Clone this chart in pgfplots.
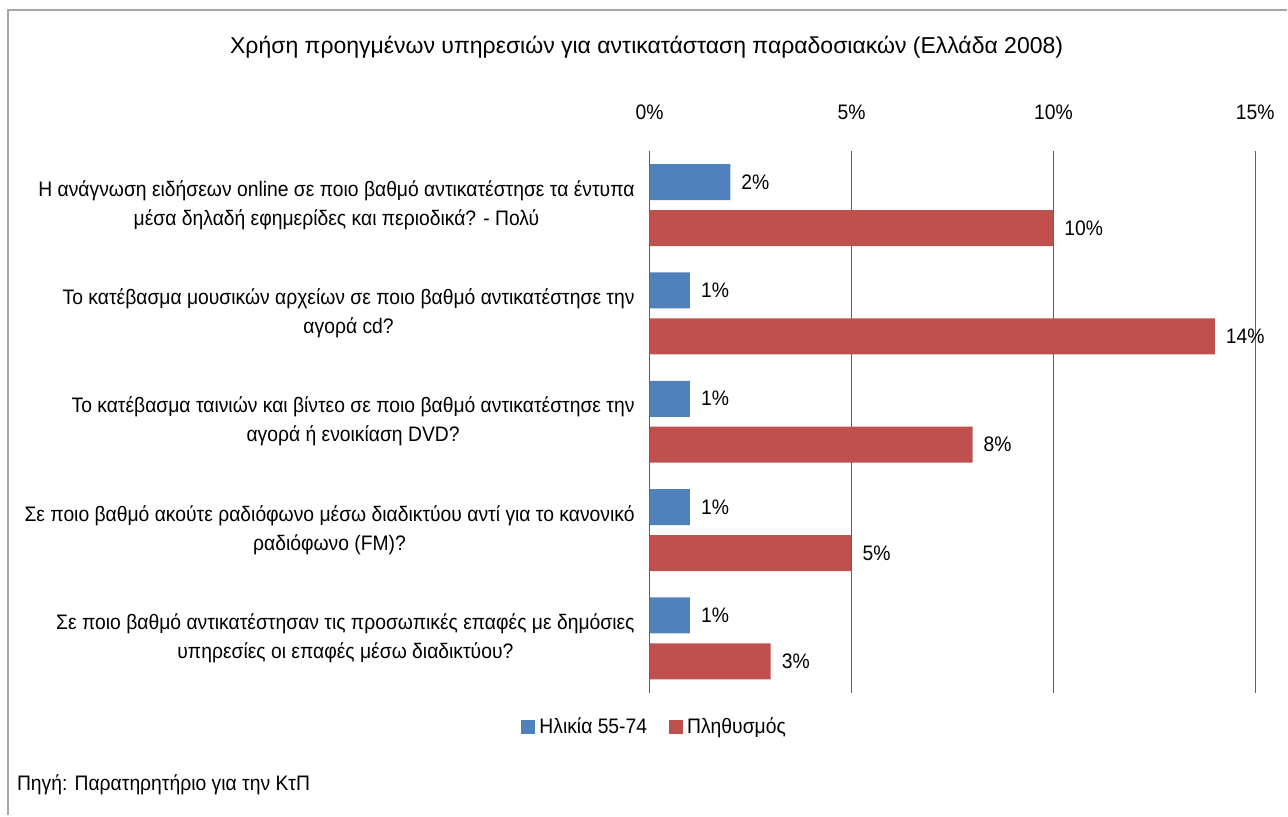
\documentclass[border=0pt]{standalone}
\usepackage{fontspec}
\setmainfont{Liberation Sans}[FakeStretch=0.92]
\newfontfamily\titlefont{Liberation Sans}
\usepackage{pgfplots}
\pgfplotsset{compat=1.18}
\definecolor{barblue}{HTML}{4F81BD}
\definecolor{barred}{HTML}{C0504D}
\begin{document}
\begin{tikzpicture}
% page frame (1px = 0.5pt)
\path (0,0) rectangle (644pt,-408pt);
\draw[gray!70, line width=0.8pt] (4pt,-408pt) -- (4pt,-5pt) -- (644pt,-5pt);
\node[font=\titlefont\fontsize{11.5}{13}\selectfont] at (323.5pt,-23.5pt)
  {Χρήση προηγμένων υπηρεσιών για αντικατάσταση παραδοσιακών (Ελλάδα 2008)};
\node[anchor=west, font=\fontsize{10.5}{12}\selectfont] at (5pt,-392.5pt)
  {Πηγή: Παρατηρητήριο για την ΚτΠ};
\begin{axis}[
    at={(325pt,-346.5pt)}, anchor=south west,
    scale only axis, width=303pt, height=271pt,
    xbar, bar width=18pt,
    xmin=0, xmax=15, ymin=0.5, ymax=5.5,
    y dir=reverse,
    xtick={0,5,10,15},
    xticklabel={\pgfmathprintnumber{\tick}\%},
    xticklabel pos=right,
    xticklabel style={anchor=south, yshift=12pt, font=\fontsize{10.5}{12}\selectfont},
    ytick={1,2,3,4,5},
    yticklabels={
      {Η ανάγνωση ειδήσεων online σε ποιο βαθμό αντικατέστησε τα έντυπα\\μέσα δηλαδή εφημερίδες και περιοδικά? - Πολύ},
      {Το κατέβασμα μουσικών αρχείων σε ποιο βαθμό αντικατέστησε την\\αγορά cd?},
      {Το κατέβασμα ταινιών και βίντεο σε ποιο βαθμό αντικατέστησε την\\αγορά ή ενοικίαση DVD?},
      {Σε ποιο βαθμό ακούτε ραδιόφωνο μέσω διαδικτύου αντί για το κανονικό\\ραδιόφωνο (FM)?},
      {Σε ποιο βαθμό αντικατέστησαν τις προσωπικές επαφές με δημόσιες\\υπηρεσίες οι επαφές μέσω διαδικτύου?}},
    yticklabel style={align=center, font=\fontsize{10.5}{14.5}\selectfont, xshift=-4pt},
    /pgf/number format/assume math mode=true,
    major tick length=0pt,
    axis line style={draw=none},
    xmajorgrids=true,
    grid style={gray!75!black, line width=0.6pt},
    nodes near coords={\pgfmathprintnumber{\pgfplotspointmeta}\%},
    nodes near coords style={font=\fontsize{10.5}{12}\selectfont, xshift=2pt},
    legend style={at={(0.01,-0.063)}, anchor=center, draw=none,
      legend columns=2, font=\fontsize{10.5}{12}\selectfont,
      /tikz/every even column/.append style={column sep=9pt}},
    legend image code/.code={\fill[#1] (0pt,-3.5pt) rectangle (7pt,3.5pt);},
  ]
\addplot[fill=barblue, draw=none, bar shift=11.5pt] coordinates {(2,1) (1,2) (1,3) (1,4) (1,5)};
\addplot[fill=barred, draw=none, bar shift=-11.5pt] coordinates {(10,1) (14,2) (8,3) (5,4) (3,5)};
\legend{Ηλικία 55-74, Πληθυσμός}
\end{axis}
\end{tikzpicture}
\end{document}
